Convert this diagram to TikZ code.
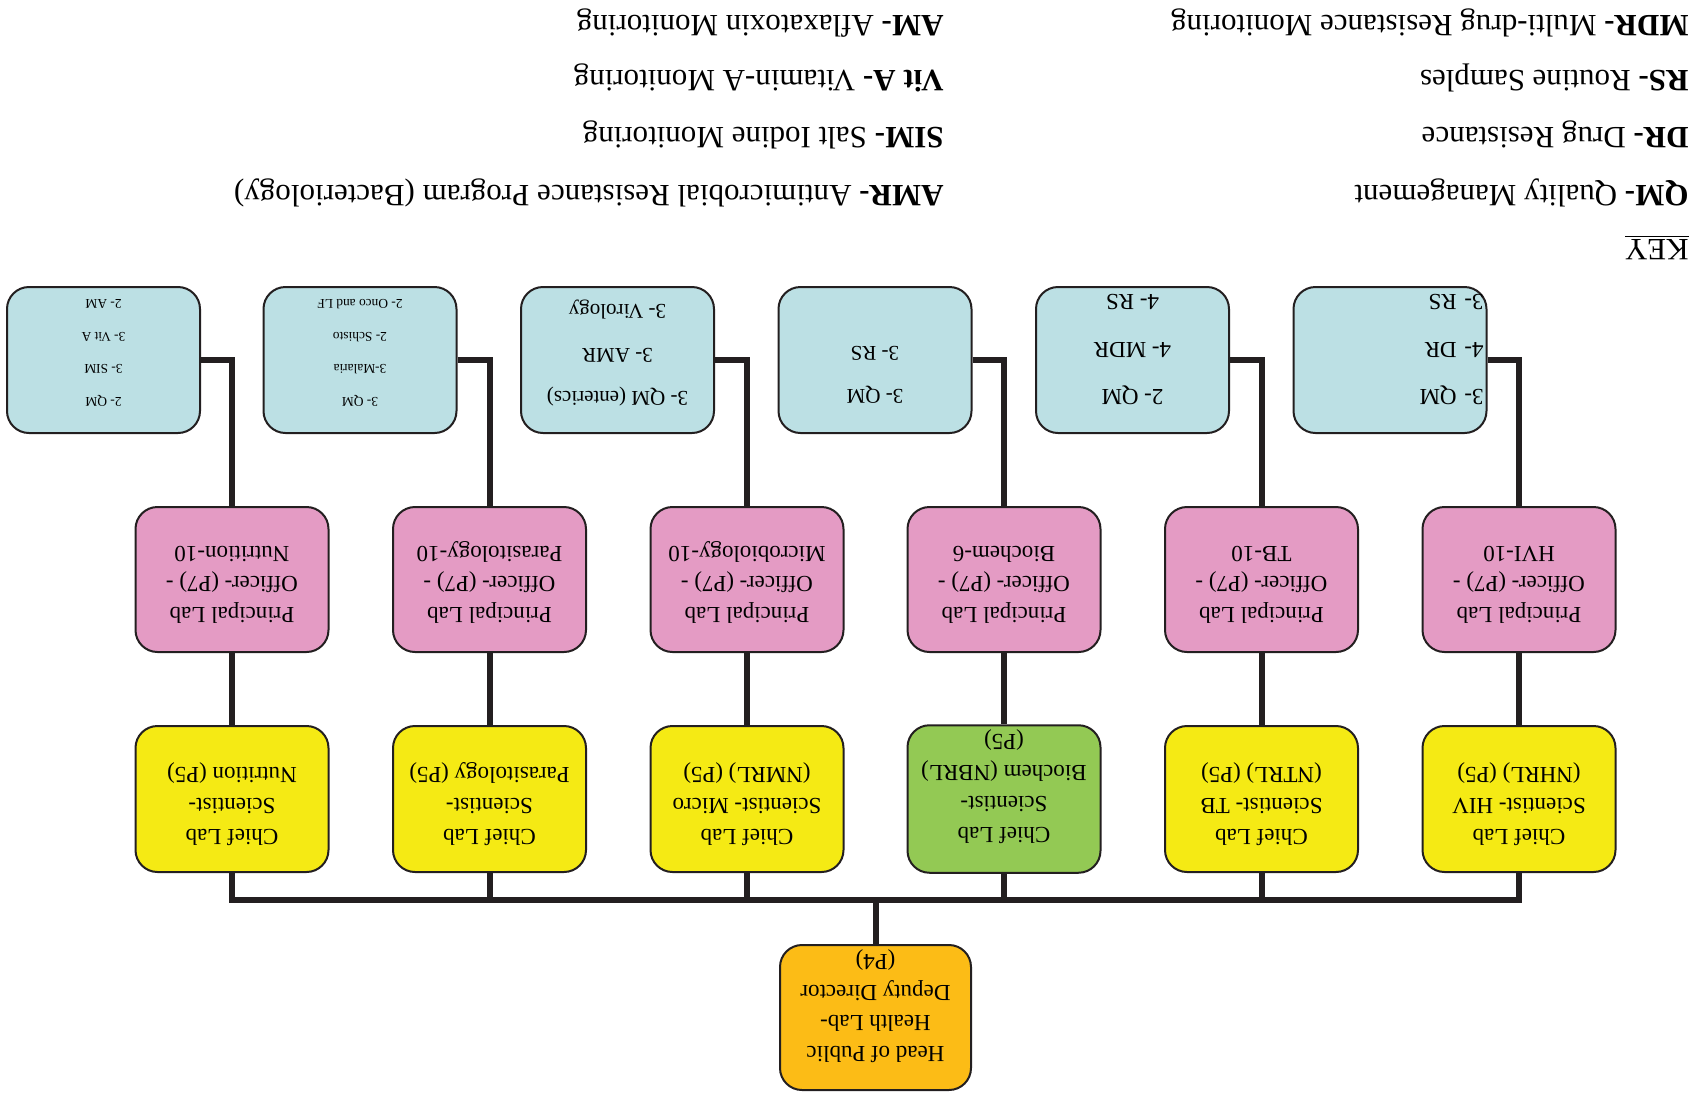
\documentclass[tikz,border=0pt]{standalone}
\usepackage{fontspec}
\setmainfont{Liberation Serif}
\definecolor{lineclr}{RGB}{35,31,32}
\definecolor{cyanf}{RGB}{188,224,228}
\definecolor{pinkf}{RGB}{228,155,196}
\definecolor{yellowf}{RGB}{245,234,20}
\definecolor{greenf}{RGB}{147,201,84}
\definecolor{orangef}{RGB}{252,188,22}
\newcommand{\pdep}{\rule[-5.4pt]{0pt}{5.4pt}}
\newcommand{\ydep}{\rule[-7.4pt]{0pt}{7.4pt}}
\begin{document}
\begin{tikzpicture}[x=0.5pt,y=-0.5pt,line join=miter,
  orgbox/.style={draw=lineclr,line width=1pt,rounded corners=11pt,minimum width=96.5pt,minimum height=73pt,inner sep=2pt,align=center,rotate=180},
  cbox/.style={orgbox,fill=cyanf},
  pbox/.style={orgbox,fill=pinkf,minimum height=72.5pt,font=\fontsize{11.5}{15.3}\selectfont},
  ybox/.style={orgbox,fill=yellowf,font=\fontsize{11.5}{15.6}\selectfont},
  gbox/.style={ybox,fill=greenf},
  hbox/.style={orgbox,fill=orangef,minimum width=95.5pt,minimum height=72.5pt,font=\fontsize{11.5}{15.4}\selectfont},
  ctxtS/.style={font=\fontsize{6.7}{16.3}\selectfont},
  ctxtM/.style={font=\fontsize{10.5}{21.75}\selectfont},
  ctxtL/.style={font=\fontsize{11.5}{23.75}\selectfont},
  conn/.style={draw=lineclr,line width=3pt},
  keytxt/.style={rotate=180,anchor=base west,inner sep=0pt,font=\fontsize{15.5}{18}\selectfont}]
\useasboundingbox (0,0) rectangle (1705,1099);

% key
\node[keytxt] (kkey) at (1689,239) {\underline{KEY}};
\node[keytxt] (kqm) at (1689,185) {\textbf{QM-} Quality Management};
\node[keytxt] (kdr) at (1689,127) {\textbf{DR-} Drug Resistance};
\node[keytxt] (krs) at (1689,70) {\textbf{RS-} Routine Samples};
\node[keytxt] (kmdr) at (1689,15) {\textbf{MDR-} Multi-drug Resistance Monitoring};
\node[keytxt] (kamr) at (944,185) {\textbf{AMR-} Antimicrobial Resistance Program (Bacteriology)};
\node[keytxt] (ksim) at (944,127) {\textbf{SIM-} Salt Iodine Monitoring};
\node[keytxt] (kvita) at (944,70) {\textbf{Vit A-} Vitamin-A Monitoring};
\node[keytxt] (kam) at (944,15) {\textbf{AM-} Aflaxatoxin Monitoring};

% cyan boxes
\node[cbox,ctxtS] (c1) at (103.5,360) {\rule{0pt}{11.6pt}2- QM\\3- SIM\\3- Vit A\\2- AM};
\node[cbox,ctxtS] (c2) at (360,360) {\rule{0pt}{11.6pt}3- QM\\3-Malaria\\2- Schisto\\2- Onco and LF};
\node[cbox,ctxtM] (c3) at (617.5,360) {\rule{0pt}{13.9pt}3- QM (enterics)\\3- AMR\\3- Virology};
\node[cbox,ctxtM] (c4) at (875,360) {3- QM\\3- RS\rule[-15pt]{0pt}{15pt}};
\node[cbox,ctxtL] (c5) at (1132.5,360) {\rule{0pt}{17.8pt}2- QM\\4- MDR\\4- RS};
\node[cbox,ctxtL,text width=93.5pt,inner xsep=1.5pt,align=left] (c6) at (1390,360) {\rule{0pt}{17.8pt}3- QM\\4- DR\\3- RS};

% pink boxes
\node[pbox] (p1) at (232,579.5) {Principal Lab\\Officer- (P7) -\\Nutrition-10\pdep};
\node[pbox] (p2) at (489.5,579.5) {Principal Lab\\Officer- (P7) -\\Parasitology-10\pdep};
\node[pbox] (p3) at (747,579.5) {Principal Lab\\Officer- (P7) -\\Microbiology-10\pdep};
\node[pbox] (p4) at (1004,579.5) {Principal Lab\\Officer- (P7) -\\Biochem-6\pdep};
\node[pbox] (p5) at (1261.5,579.5) {Principal Lab\\Officer- (P7) -\\TB-10\pdep};
\node[pbox] (p6) at (1519,579.5) {Principal Lab\\Officer- (P7) -\\HVI-10\pdep};

% yellow / green boxes
\node[ybox] (y1) at (232,799) {Chief Lab\\Scientist-\\Nutrition (P5)\ydep};
\node[ybox] (y2) at (489.5,799) {Chief Lab\\Scientist-\\Parasitology (P5)\ydep};
\node[ybox] (y3) at (747,799) {Chief Lab\\Scientist- Micro\\(NMRL) (P5)\ydep};
\node[gbox] (y4) at (1004,799) {\rule{0pt}{20.5pt}Chief Lab\\Scientist-\\Biochem (NBRL)\\(P5)};
\node[ybox] (y5) at (1261.5,799) {Chief Lab\\Scientist- TB\\(NTRL) (P5)\ydep};
\node[ybox] (y6) at (1519,799) {Chief Lab\\Scientist- HIV\\(NHRL) (P5)\ydep};

% head
\node[hbox] (h) at (875.5,1017.5) {\rule{0pt}{19.5pt}Head of Public\\Health Lab-\\Deputy Director\\(P4)};
\coordinate (bus) at (875.5,900);

% connectors
\foreach \i in {1,...,6}{
  \draw[conn] (c\i.west) -| (p\i.south);
  \draw[conn] (p\i.north) -- (y\i.south);
}
\draw[conn] (y1.north) |- (bus) -| (y6.north);
\foreach \i in {2,...,5}{
  \draw[conn] (y\i.north) -- (y\i.north |- bus);
}
\draw[conn] (h.south) -- (bus);
\end{tikzpicture}
\end{document}
